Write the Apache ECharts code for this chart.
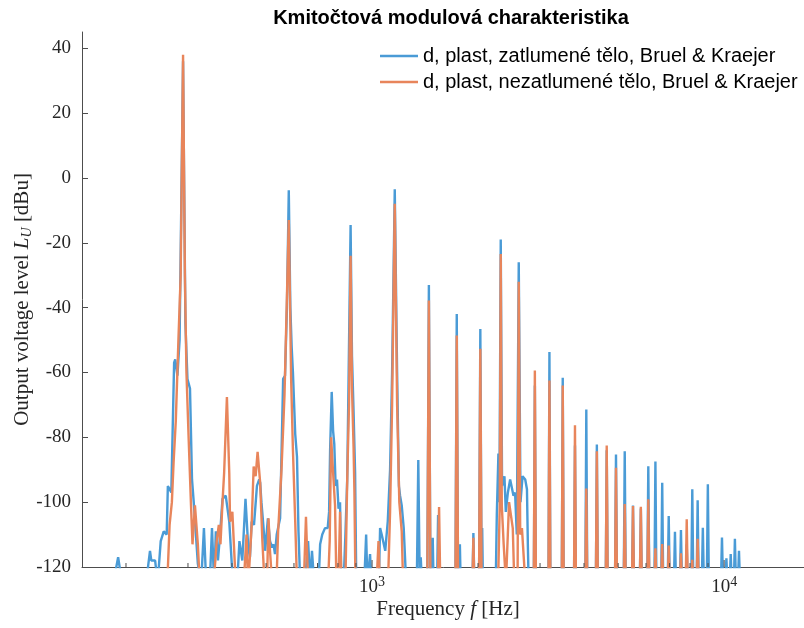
<!DOCTYPE html>
<html><head><meta charset="utf-8">
<script src="https://cdn.jsdelivr.net/npm/echarts@6/dist/echarts.min.js"></script>
<style>html,body{margin:0;padding:0;background:#fff}#c{width:804px;height:628px}</style>
</head><body><div id="c"></div>
<script>
const titleText = 'Kmitočtová modulová charakteristika';
const seriesNames = ['d, plast, zatlumené tělo, Bruel & Kraejer', 'd, plast, nezatlumené tělo, Bruel & Kraejer'];
const seriesColors = ['#4A9BD6', '#E8855B'];

// [frequency Hz, level dBu] (values below -120 are clipped)
const dampedPoints = [
[150,-125],[184,-125],[190,-117],[195,-125],[228,-125],[234,-115],[236,-118],[242,-118],[246,-125],
[249,-125],[251,-112],[256,-109],[261,-110],[263,-95],[269,-97],[274,-57],[276,-56],[280,-61],[284,-50],
[290.5,36],[295,-45],[299,-62],[304,-65],[308,-93],[312,-101],[316,-101],[320,-119],[327,-125],[333,-108],
[338,-125],[346,-125],[351,-108],[356,-125],[360,-109],[365,-118],[370,-110],[376,-99],[384,-98],[393,-106],
[400,-120],[406,-125],[414,-125],[420,-112],[428,-118],[437,-99],[445,-114],[450,-117],[455,-106],[462,-107],
[471,-95],[478,-93],[481,-94],[485,-100],[491,-107],[497,-115],[506,-105],[513,-112],[520,-114],[525,-113],
[530,-116],[536,-110],[548,-105],[559,-62],[566,-61],[573,-40],[580,-3.8],[586,-40],[591,-52],[596,-60],
[605,-79],[612,-86],[618,-109],[625,-125],[645,-125],[658,-112],[668,-125],[675,-115],[685,-125],[705,-125],
[712,-113],[722,-110],[735,-108],[748,-108],[755,-103],[760,-84],[768,-66],[775,-78],[781,-82],[788,-95],
[795,-93],[803,-102],[811,-100],[818,-125],[830,-125],[840,-110],[850,-93],[858,-60],[869,-14.5],[877,-55],
[886,-72],[895,-91],[902,-125],[950,-125],[962,-110],[970,-125],[982,-125],[987,-116],[995,-125],[1045,-125],
[1054,-108],[1065,-110],[1077,-110],[1090,-115],[1108,-106],[1125,-90],[1140,-60],[1160,-3.5],[1178,-60],
[1192,-95],[1201,-98],[1214,-101],[1230,-108],[1241,-108],[1250,-125],[1340,-125],[1353,-87],[1366,-125],
[1375,-117],[1385,-125],[1435,-125],[1450,-33],[1465,-125],[1480,-125],[1487,-111],[1495,-125],[1530,-125],
[1540,-104],[1552,-125],[1725,-125],[1740,-42],[1755,-125],[1768,-125],[1776,-113],[1785,-125],[1928,-125],
[1940,-109.5],[1952,-125],[2013,-125],[2030,-46.6],[2047,-125],[2055,-108],[2065,-125],[2245,-125],[2261,-104],
[2285,-85],[2300,-100],[2320,-19],[2340,-95],[2377,-92],[2398,-103],[2431,-97],[2467,-93],[2494,-93],[2522,-98],
[2548,-97],[2577,-110],[2610,-26],[2640,-100],[2676,-92],[2723,-93],[2754,-96],[2771,-114],[2785,-125],
[2880,-125],[2900,-64],[2920,-125],[3170,-125],[3190,-53.7],[3210,-125],[3458,-125],[3480,-61.6],[3502,-125],
[3746,-125],[3770,-82.5],[3794,-125],[4034,-125],[4060,-71.4],[4086,-125],[4322,-125],[4350,-82.2],[4378,-125],
[4610,-125],[4640,-84],[4670,-125],[4898,-125],[4930,-85.3],[4962,-125],[5186,-125],[5220,-84.3],[5254,-125],
[5474,-125],[5510,-101],[5546,-125],[5762,-125],[5800,-102],[5838,-125],[6050,-125],[6090,-88.9],[6130,-125],
[6338,-125],[6380,-87.5],[6422,-125],[6626,-125],[6670,-94],[6714,-125],[6914,-125],[6960,-104.3],[7006,-125],
[7202,-125],[7250,-109.1],[7298,-125],[7490,-125],[7540,-108.6],[7590,-125],[7778,-125],[7830,-113],[7882,-125],
[8066,-125],[8120,-96],[8174,-125],[8354,-125],[8410,-99.4],[8466,-125],[8642,-125],[8700,-107.9],[8758,-125],
[8930,-125],[8990,-94.5],[9050,-125],[9794,-125],[9860,-110.9],[9926,-125],[10082,-125],[10150,-117.3],[10218,-125],
[10370,-125],[10440,-116],[10510,-125],[10658,-125],[10730,-111.3],[10802,-125],[10946,-125],[11020,-115],[11094,-125],
[18000,-125]
];
const undampedPoints = [
[150,-125],[262,-125],[266,-107],[270,-100],[273,-88],[277,-75],[282,-49],[286,-30],[290.5,38],[294,-30],
[297,-60],[301,-79],[306,-101],[309,-113],[314,-101],[320,-113],[324,-125],[355,-125],[362,-112],[367,-107],
[371,-113],[376,-100],[380,-91],[387,-67.6],[393,-91],[395,-106],[401,-103],[410,-125],[432,-125],[440,-110],
[444,-125],[448,-120],[455,-107],[461,-89],[467,-92],[473,-84.5],[481,-94],[488,-112],[495,-125],[503,-125],
[508,-105],[513,-115],[520,-125],[535,-125],[541,-109],[553,-90],[564,-67],[572,-40],[580,-13],[585,-40],
[589,-62],[596,-84],[605,-106],[612,-125],[640,-125],[649,-104.5],[658,-125],[750,-125],[758,-112],[765,-80],
[777,-93],[785,-101],[792,-125],[803,-125],[811,-103],[818,-125],[840,-125],[850,-93],[860,-70],[869,-24],
[877,-65],[886,-83],[891,-97],[897,-125],[1030,-125],[1043,-112],[1052,-125],[1110,-125],[1125,-103],[1140,-70],
[1160,-8],[1178,-70],[1195,-100],[1214,-109],[1225,-125],[1435,-125],[1450,-37.8],[1465,-125],[1538,-125],
[1550,-101.5],[1562,-125],[1725,-125],[1740,-48.6],[1755,-125],[1928,-125],[1940,-111],[1952,-125],[2013,-125],
[2030,-52.7],[2047,-125],[2280,-125],[2305,-101],[2320,-23.5],[2336,-101],[2365,-113],[2400,-125],[2430,-110],
[2450,-100],[2482,-100],[2510,-108],[2535,-125],[2590,-125],[2610,-32],[2635,-110],[2665,-108],[2700,-108],
[2725,-125],[2880,-125],[2900,-59.4],[2920,-125],[3170,-125],[3190,-62.5],[3210,-125],[3458,-125],[3480,-64],
[3502,-125],[3746,-125],[3770,-76.3],[3794,-125],[4034,-125],[4060,-95.8],[4086,-125],[4322,-125],[4350,-84.3],
[4378,-125],[4610,-125],[4640,-82.5],[4670,-125],[4898,-125],[4930,-89.4],[4962,-125],[5186,-125],[5220,-100.6],
[5254,-125],[5474,-125],[5510,-101.2],[5546,-125],[5762,-125],[5800,-101.4],[5838,-125],[6050,-125],[6090,-99.1],
[6130,-125],[6338,-125],[6380,-114.2],[6422,-125],[6626,-125],[6670,-112.9],[6714,-125],[6914,-125],[6960,-113.4],
[7006,-125],[7490,-125],[7540,-115.8],[7590,-125],[7778,-125],[7830,-105.3],[7882,-125],[8066,-125],[8120,-117.8],
[8174,-125],[8354,-125],[8410,-111.3],[8466,-125],[18000,-125]
];

const xMinorTicks = [200,300,400,500,600,700,800,900,2000,3000,4000,5000,6000,7000,8000,9000];
const xMajorTicks = [1000,10000];
const yTicks = [-120,-100,-80,-60,-40,-20,0,20,40];
const xRange = [150, 18000];
const yRange = [-120, 45];

const axisColor = '#4d4d4d';
const textColor = '#262626';
const serif = 'Liberation Serif';
const sans = 'Liberation Sans';

const tickData = xMinorTicks.map(v => [v, yRange[0], 0]).concat(xMajorTicks.map(v => [v, yRange[0], 1]));

const chart = echarts.init(document.getElementById('c'), null, {renderer: 'canvas'});
chart.setOption({
  animation: false,
  backgroundColor: '#fff',
  title: {
    text: titleText, left: 446, top: 3, textAlign: 'center',
    textStyle: {fontFamily: sans, fontSize: 20, fontWeight: 'bold', color: '#000'}
  },
  legend: {
    data: seriesNames, orient: 'vertical', left: 380, top: 46, padding: 0,
    icon: 'rect', itemWidth: 38, itemHeight: 2.4, itemGap: 6,
    textStyle: {fontFamily: sans, fontSize: 20, color: '#000', lineHeight: 20}
  },
  grid: {left: 82, width: 732, top: 32, bottom: 61, containLabel: false, outerBoundsMode: 'none'},
  xAxis: {
    type: 'log', logBase: 10, min: xRange[0], max: xRange[1],
    axisLine: {onZero: false, lineStyle: {color: axisColor, width: 1}},
    axisTick: {show: false},
    splitLine: {show: false},
    axisLabel: {
      margin: 8, color: textColor, fontFamily: serif, fontSize: 19,
      formatter: v => {
        const e = Math.log10(v);
        if (Math.abs(e - Math.round(e)) > 1e-6) return '';
        return '10{sup|' + Math.round(e) + '}';
      },
      rich: {sup: {fontFamily: serif, fontSize: 14, color: textColor, padding: [0, 0, 10, 0]}}
    },
    name: 'Frequency {it|f} [Hz]', nameLocation: 'middle', nameGap: 32, nameMoveOverlap: false,
    nameTextStyle: {fontFamily: serif, fontSize: 21, color: textColor,
      rich: {it: {fontFamily: serif, fontSize: 21, fontStyle: 'italic', color: textColor}}}
  },
  yAxis: {
    type: 'value', min: yRange[0], max: yRange[1], interval: 20,
    axisLine: {show: true, onZero: false, lineStyle: {color: axisColor, width: 1}},
    axisTick: {show: true, inside: true, length: 6, customValues: yTicks, lineStyle: {color: axisColor}},
    splitLine: {show: false},
    axisLabel: {
      customValues: yTicks, margin: 11, color: textColor, fontFamily: serif, fontSize: 19,
      formatter: v => (v % 20 === 0 ? String(v) : '')
    },
    name: 'Output voltage level {it|L}{sub|U} [dBu]', nameLocation: 'middle', nameGap: 48, nameRotate: 90,
    nameMoveOverlap: false,
    nameTextStyle: {fontFamily: serif, fontSize: 21, color: textColor,
      rich: {
        it: {fontFamily: serif, fontSize: 21, fontStyle: 'italic', color: textColor},
        sub: {fontFamily: serif, fontSize: 14, fontStyle: 'italic', color: textColor, padding: [9, 0, 0, 0]}
      }}
  },
  series: [
    {name: seriesNames[0], type: 'line', data: dampedPoints, showSymbol: false, symbol: 'none',
     color: seriesColors[0], lineStyle: {width: 2.4, color: seriesColors[0]}, sampling: null, z: 2},
    {name: seriesNames[1], type: 'line', data: undampedPoints, showSymbol: false, symbol: 'none',
     color: seriesColors[1], lineStyle: {width: 2.4, color: seriesColors[1]}, sampling: null, z: 3},
    {name: 'xticks', type: 'custom', data: tickData, silent: true, clip: false, z: 10,
     renderItem: (params, api) => {
       const p = api.coord([api.value(0), api.value(1)]);
       const len = api.value(2) ? 7 : 4;
       return {type: 'line', shape: {x1: p[0], y1: p[1], x2: p[0], y2: p[1] - len},
               style: {stroke: axisColor, lineWidth: 1}};
     }}
  ]
});
</script></body></html>
